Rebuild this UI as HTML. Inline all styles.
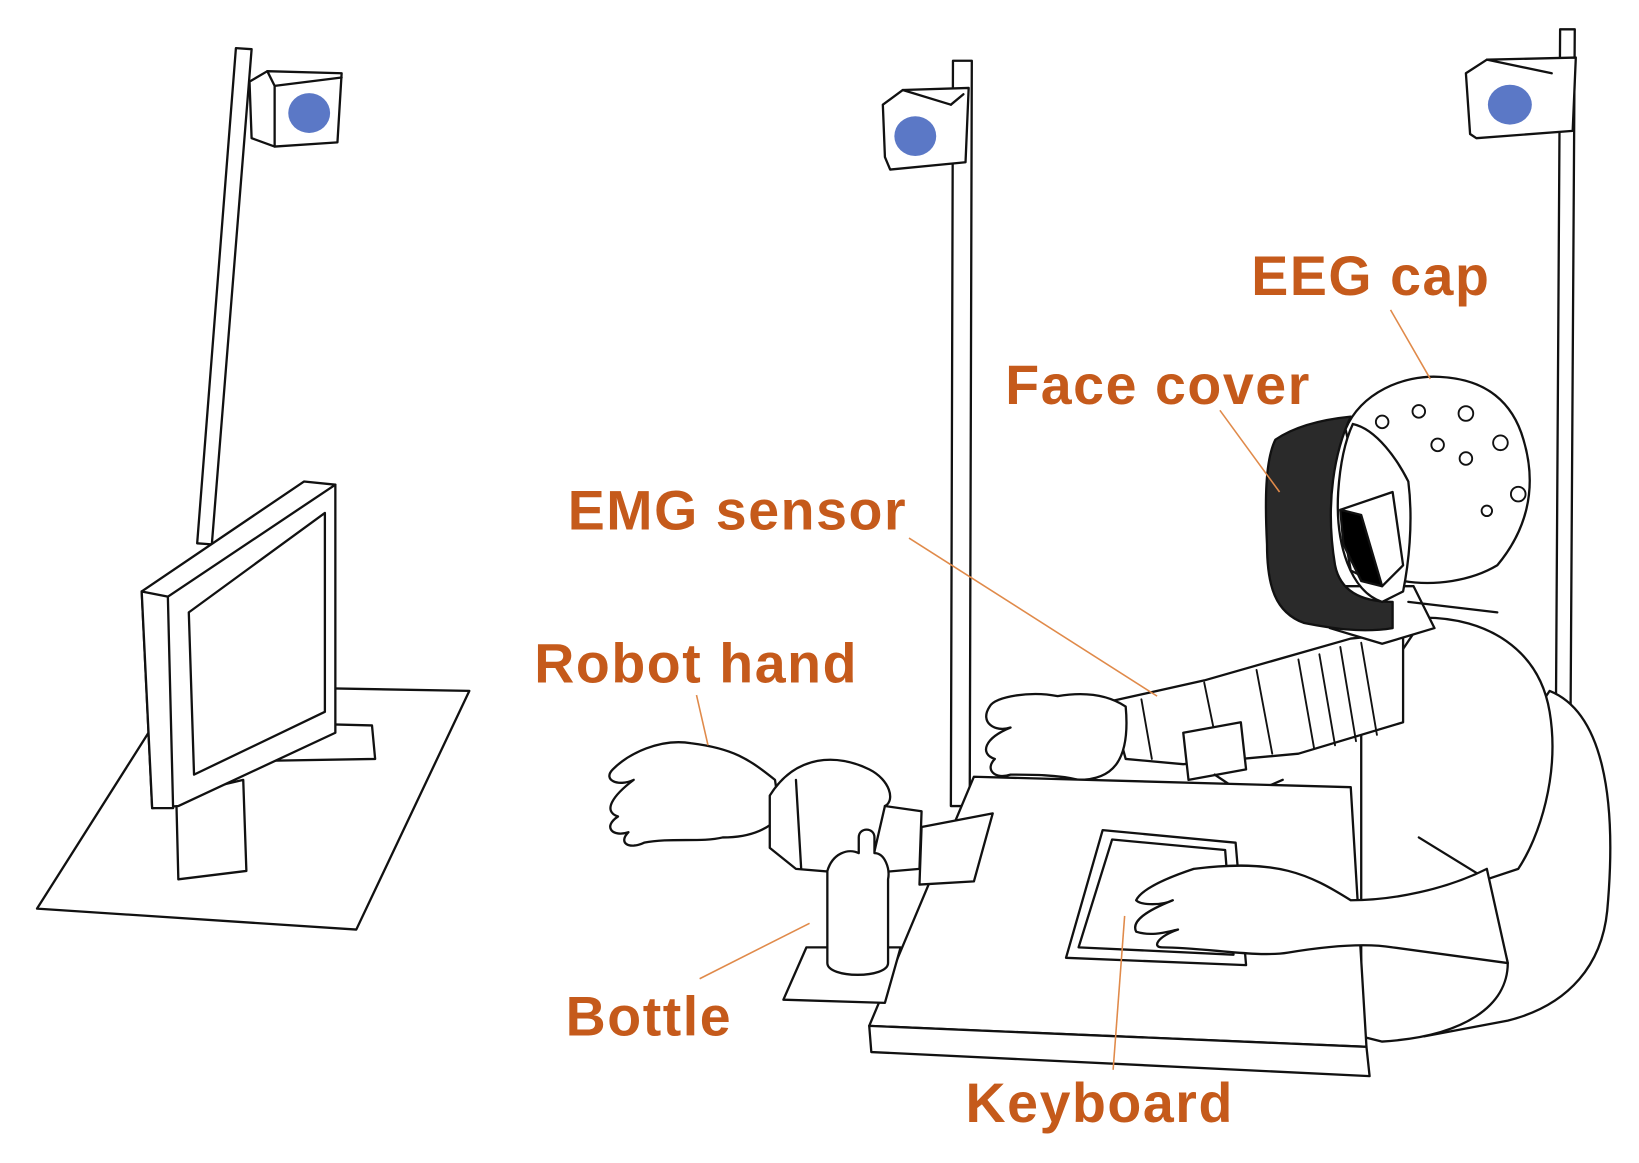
<!DOCTYPE html>
<html><head><meta charset="utf-8"><style>
html,body{margin:0;padding:0;background:#fff;width:1639px;height:1163px;overflow:hidden}
svg{display:block}
text{font-family:"Liberation Sans",sans-serif;font-weight:bold;fill:#C55A1B;font-size:53px;letter-spacing:1.5px}
</style></head><body>
<svg width="1639" height="1163" viewBox="0 0 1565 1111" xmlns="http://www.w3.org/2000/svg">
<g fill="#fff" stroke="#111" stroke-width="2.2" stroke-linejoin="round" stroke-linecap="round">
<polygon points="225,46 240,47 202,520 188,519"/>
<polygon points="238,78 255,68 326,70 322,136 262,140 240,132"/>
<polyline points="255,68 262,82 262,140" fill="none"/>
<line x1="262" y1="82" x2="326" y2="74"/>
<ellipse cx="295" cy="108" rx="20" ry="19" fill="#5B78C6" stroke="none"/>
<polygon points="35,868 170,655 448,660 340,888"/>
<polygon points="240,690 355,693 358,725 242,727"/>
<polygon points="168,760 232,745 235,832 170,840"/>
<polygon points="135,565 290,460 320,463 320,700 170,770 145,772"/>
<polygon points="135,565 160,570 165,772 145,772"/>
<line x1="160" y1="570" x2="320" y2="463"/>
<polygon points="180,585 310,490 310,680 185,740"/>
<polygon points="910,58 928,58 926,770 908,770"/>
<polygon points="843,100 862,86 925,84 922,155 850,162 845,150"/>
<line x1="862" y1="86" x2="908" y2="100"/>
<line x1="908" y1="100" x2="920" y2="90"/>
<ellipse cx="874" cy="130" rx="20" ry="19" fill="#5B78C6" stroke="none"/>
<polygon points="1490,28 1504,28 1500,680 1486,680"/>
<polygon points="1400,70 1420,57 1505,55 1502,125 1410,132 1404,128"/>
<line x1="1420" y1="57" x2="1482" y2="70"/>
<ellipse cx="1442" cy="100" rx="21" ry="19" fill="#5B78C6" stroke="none"/>
<path d="M1480,660 C1530,680 1545,760 1535,870 C1530,920 1500,960 1440,975 L1360,990 L1320,900 Z"/>
<path d="M1360,590 C1420,590 1470,620 1480,680 C1490,740 1470,800 1450,830 L1420,840 L1440,920 C1440,960 1400,990 1320,995 L1300,990 L1300,700 L1340,620 Z"/>
<path d="M1355,800 L1420,840" fill="none"/>
<path d="M1060,670 L1150,650 L1290,610 L1340,605 L1340,690 L1240,720 L1130,730 L1075,725 Z"/>
<g fill="none" stroke-width="1.8">
<path d="M1090,668 L1100,725"/><path d="M1150,652 L1165,725"/><path d="M1200,640 L1215,720"/>
<path d="M1240,630 L1255,715"/><path d="M1260,625 L1275,712"/><path d="M1280,618 L1295,708"/>
<path d="M1300,614 L1315,702"/>
</g>
<path d="M1130,700 L1185,690 L1190,735 L1135,745 Z"/>
<path d="M1160,740 L1190,760 L1225,745" fill="none"/>
<path d="M1075,675 C1060,665 1040,660 1010,665 C985,660 950,665 945,675 C935,690 950,700 965,695 C940,705 935,720 950,725 C940,735 950,745 965,740 C985,740 1010,740 1030,745 C1060,745 1080,730 1075,675 Z"/>
<polygon points="830,980 930,742 1290,752 1305,1000"/>
<polygon points="830,980 1305,1000 1308,1028 832,1005"/>
<polygon points="1018,915 1053,793 1180,805 1190,922"/>
<polygon points="1030,905 1062,802 1170,812 1178,912"/>
<path d="M1420,830 C1380,850 1330,860 1290,860 C1250,835 1220,820 1140,830 C1110,840 1090,850 1085,860 C1090,865 1110,865 1120,860 C1095,870 1080,880 1085,890 C1100,895 1115,890 1125,888 C1105,895 1100,905 1110,905 C1150,905 1200,915 1230,910 C1260,905 1300,900 1330,905 L1440,920 Z"/>
<path d="M1280,560 L1350,560 L1370,600 L1320,615 L1270,600 Z"/>
<path d="M1345,575 L1430,585" fill="none"/>
<path d="M1285,410 C1300,375 1340,358 1375,360 C1420,362 1445,385 1455,420 C1470,470 1455,510 1430,540 C1405,555 1370,560 1340,555 L1310,520 Z"/>
<path d="M1218,420 C1240,405 1270,400 1290,398 C1275,430 1265,480 1275,540 C1280,565 1300,575 1330,575 L1330,600 C1300,605 1270,600 1245,595 C1218,585 1210,560 1210,520 C1208,480 1208,440 1218,420 Z" fill="#2a2a2a"/>
<path d="M1292,405 C1315,410 1335,440 1345,460 C1350,500 1345,540 1340,565 L1320,575 C1290,565 1275,520 1278,470 C1280,440 1285,420 1292,405 Z"/>
<polygon points="1280,487 1330,470 1340,540 1320,560 1290,545"/>
<polygon points="1280,487 1300,492 1320,560 1300,555 1283,520" fill="#000"/>
<g stroke-width="1.8">
<circle cx="1320" cy="403" r="6"/><circle cx="1355" cy="393" r="6"/><circle cx="1400" cy="395" r="7"/>
<circle cx="1373" cy="425" r="6"/><circle cx="1400" cy="438" r="6"/><circle cx="1433" cy="423" r="7"/>
<circle cx="1450" cy="472" r="7"/><circle cx="1420" cy="488" r="5"/>
</g>
<path d="M740,745 C715,725 700,715 660,710 C630,705 600,720 585,735 C575,745 590,752 605,745 C585,760 575,775 590,780 C575,790 585,800 600,795 C590,805 600,812 615,805 C640,800 670,805 690,800 C720,800 735,790 745,780 Z"/>
<path d="M735,760 C760,720 800,720 830,735 C850,745 855,765 845,770 L880,775 L878,830 L820,835 L760,830 L735,810 Z"/>
<line x1="760" y1="745" x2="765" y2="830"/><line x1="845" y1="770" x2="830" y2="835"/>
<polygon points="880,790 948,777 930,842 878,845"/>
<polygon points="748,955 770,905 860,905 845,958"/>
<path d="M790,832 C795,815 810,810 820,815 L820,800 C820,790 835,790 835,800 L835,815 C845,815 850,830 848,840 L848,920 C848,935 790,935 790,920 Z"/>
</g>
<g stroke="#E08A4A" stroke-width="1.5" fill="none">
<line x1="1328" y1="296" x2="1366" y2="362"/>
<line x1="1165" y1="392" x2="1222" y2="470"/>
<line x1="868" y1="514" x2="1105" y2="665"/>
<line x1="665" y1="664" x2="676" y2="712"/>
<line x1="668" y1="935" x2="773" y2="882"/>
<line x1="1063" y1="1022" x2="1074" y2="875"/>
</g>
<text x="1195" y="282">EEG cap</text>
<text x="960" y="386">Face cover</text>
<text x="542" y="506">EMG sensor</text>
<text x="510" y="652">Robot hand</text>
<text x="540" y="989">Bottle</text>
<text x="922" y="1072">Keyboard</text>
</svg>
</body></html>
